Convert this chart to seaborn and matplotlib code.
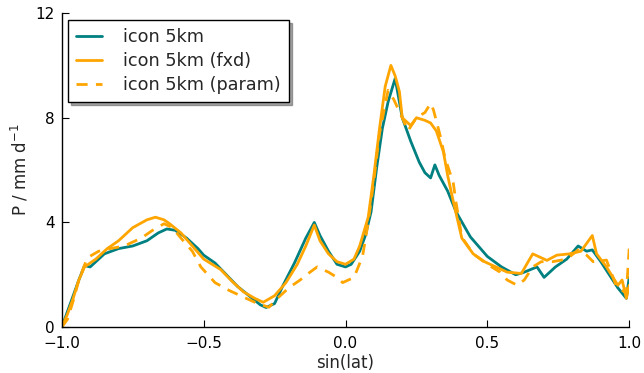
import matplotlib
matplotlib.use("Agg")
import matplotlib.pyplot as plt
import seaborn as sns
import pandas as pd

# --- data ---
x_icon = [-1.0, -0.98, -0.96, -0.94, -0.92, -0.90, -0.88, -0.85, -0.80, -0.75, -0.70, -0.66, -0.63, -0.60,
          -0.56, -0.52, -0.50, -0.46, -0.42, -0.38, -0.34, -0.30, -0.28, -0.25, -0.22, -0.18, -0.14, -0.11,
          -0.09, -0.06, -0.03, 0.0, 0.02, 0.05, 0.07, 0.09, 0.11, 0.13, 0.15, 0.175, 0.19, 0.20, 0.23, 0.26,
          0.28, 0.30, 0.315, 0.33, 0.36, 0.39, 0.44, 0.50, 0.55, 0.60, 0.63, 0.675, 0.70, 0.74, 0.78, 0.82,
          0.85, 0.87, 0.90, 0.93, 0.96, 0.99, 1.0]
y_icon = [0.0, 0.6, 1.2, 1.8, 2.35, 2.3, 2.5, 2.8, 3.0, 3.1, 3.3, 3.6, 3.75, 3.7,
          3.4, 3.0, 2.75, 2.45, 2.0, 1.55, 1.2, 0.85, 0.75, 0.9, 1.6, 2.45, 3.4, 4.0,
          3.5, 2.9, 2.4, 2.3, 2.4, 2.9, 3.5, 4.4, 6.1, 7.6, 8.6, 9.5, 8.6, 8.0, 7.1, 6.3,
          5.9, 5.7, 6.2, 5.8, 5.2, 4.4, 3.45, 2.7, 2.3, 2.0, 2.1, 2.3, 1.9, 2.3, 2.6, 3.1,
          2.9, 2.95, 2.5, 2.0, 1.5, 1.1, 1.9]

x_fxd = [-1.0, -0.98, -0.96, -0.94, -0.92, -0.88, -0.84, -0.80, -0.75, -0.70, -0.67, -0.64, -0.62, -0.58,
         -0.54, -0.50, -0.44, -0.40, -0.36, -0.32, -0.29, -0.25, -0.21, -0.17, -0.14, -0.11, -0.09, -0.06,
         -0.03, 0.0, 0.03, 0.05, 0.08, 0.10, 0.12, 0.14, 0.16, 0.175, 0.19, 0.20, 0.23, 0.25, 0.28, 0.30,
         0.32, 0.345, 0.36, 0.38, 0.41, 0.45, 0.49, 0.53, 0.57, 0.62, 0.66, 0.71, 0.745, 0.79, 0.83, 0.87,
         0.885, 0.92, 0.96, 0.975, 0.99, 1.0]
y_fxd = [0.0, 0.5, 1.1, 1.8, 2.3, 2.6, 3.0, 3.3, 3.8, 4.1, 4.2, 4.1, 3.95, 3.6,
         3.1, 2.6, 2.2, 1.75, 1.35, 1.1, 0.95, 1.2, 1.7, 2.4, 3.1, 3.9, 3.3, 2.8,
         2.5, 2.4, 2.6, 3.1, 4.2, 5.8, 7.6, 9.2, 10.0, 9.6, 9.0, 8.0, 7.7, 8.0, 7.9, 7.8,
         7.5, 6.7, 5.8, 4.8, 3.4, 2.8, 2.5, 2.3, 2.1, 2.05, 2.8, 2.55, 2.75, 2.8, 2.9, 3.5,
         2.8, 2.3, 1.6, 1.8, 1.1, 1.6]

x_param = [-1.0, -0.98, -0.96, -0.94, -0.91, -0.87, -0.83, -0.78, -0.72, -0.68, -0.64, -0.61, -0.58, -0.54,
           -0.51, -0.46, -0.41, -0.36, -0.31, -0.27, -0.24, -0.20, -0.16, -0.13, -0.10, -0.06, -0.03, -0.01,
           0.03, 0.06, 0.08, 0.10, 0.12, 0.15, 0.17, 0.20, 0.22, 0.25, 0.28, 0.30, 0.31, 0.335, 0.35, 0.38,
           0.39, 0.41, 0.45, 0.50, 0.545, 0.57, 0.605, 0.63, 0.66, 0.69, 0.73, 0.78, 0.82, 0.85, 0.873, 0.92,
           0.955, 0.99, 1.0]
y_param = [0.0, 0.3, 1.0, 1.8, 2.65, 2.9, 3.0, 3.1, 3.4, 3.7, 3.95, 3.8, 3.4, 2.9,
           2.3, 1.7, 1.4, 1.15, 0.9, 0.76, 1.1, 1.5, 1.8, 2.06, 2.3, 2.1, 1.9, 1.7,
           1.9, 2.7, 4.0, 5.6, 7.4, 9.05, 8.7, 8.0, 7.5, 8.0, 8.2, 8.55, 8.3, 7.26, 6.5, 5.5,
           4.74, 3.44, 2.8, 2.4, 2.1, 1.8, 1.6, 1.8, 2.3, 2.5, 2.5, 2.6, 2.95, 2.75, 2.5, 2.56,
           1.55, 1.3, 3.0]

labels = ["icon 5km", "icon 5km (fxd)", "icon 5km (param)"]
x_ticks = [-1.0, -0.5, 0.0, 0.5, 1.0]
x_ticklabels = ["\u22121.0", "\u22120.5", "0.0", "0.5", "1.0"]
y_ticks = [0, 4, 8, 12]

sns.set_style("ticks")
plt.rcParams["font.family"] = ["DejaVu Sans"]
plt.rcParams["xtick.direction"] = "in"
plt.rcParams["ytick.direction"] = "in"

fig = plt.figure(figsize=(6.44, 3.73), dpi=100)
ax = fig.add_axes([0.096, 0.123, 0.881, 0.842])

sns.lineplot(x=x_icon, y=y_icon, ax=ax, color="#008080", lw=2, label=labels[0],
             estimator=None, sort=False)
sns.lineplot(x=x_fxd, y=y_fxd, ax=ax, color="#FFA500", lw=2, label=labels[1],
             estimator=None, sort=False)
sns.lineplot(x=x_param, y=y_param, ax=ax, color="#FFA500", lw=2, label=labels[2],
             estimator=None, sort=False)
ax.lines[2].set_dashes([4, 3])

ax.set_xlim(-1, 1)
ax.set_ylim(0, 12)
ax.set_xticks(x_ticks)
ax.set_xticklabels(x_ticklabels)
ax.set_yticks(y_ticks)
ax.tick_params(labelsize=11, length=5, width=0.8, colors="black")
ax.tick_params(axis="y", pad=5)
ax.tick_params(axis="x", pad=6.5)
ax.set_xlabel("sin(lat)", fontsize=12, labelpad=2)
ax.set_ylabel("P / mm d$^{-1}$", fontsize=12)
sns.despine(ax=ax)
for s in ["left", "bottom"]:
    ax.spines[s].set_color("black")
    ax.spines[s].set_linewidth(1.0)

leg = ax.legend(loc="upper left", bbox_to_anchor=(0.0106, 0.978), borderaxespad=0,
                fontsize=12.7, frameon=True, fancybox=False, shadow=True, edgecolor="black",
                handlelength=1.5, handletextpad=1.2, borderpad=0.45, labelspacing=0.35)
leg.get_frame().set_linewidth(1.0)

fig.savefig("out.png", dpi=100)
